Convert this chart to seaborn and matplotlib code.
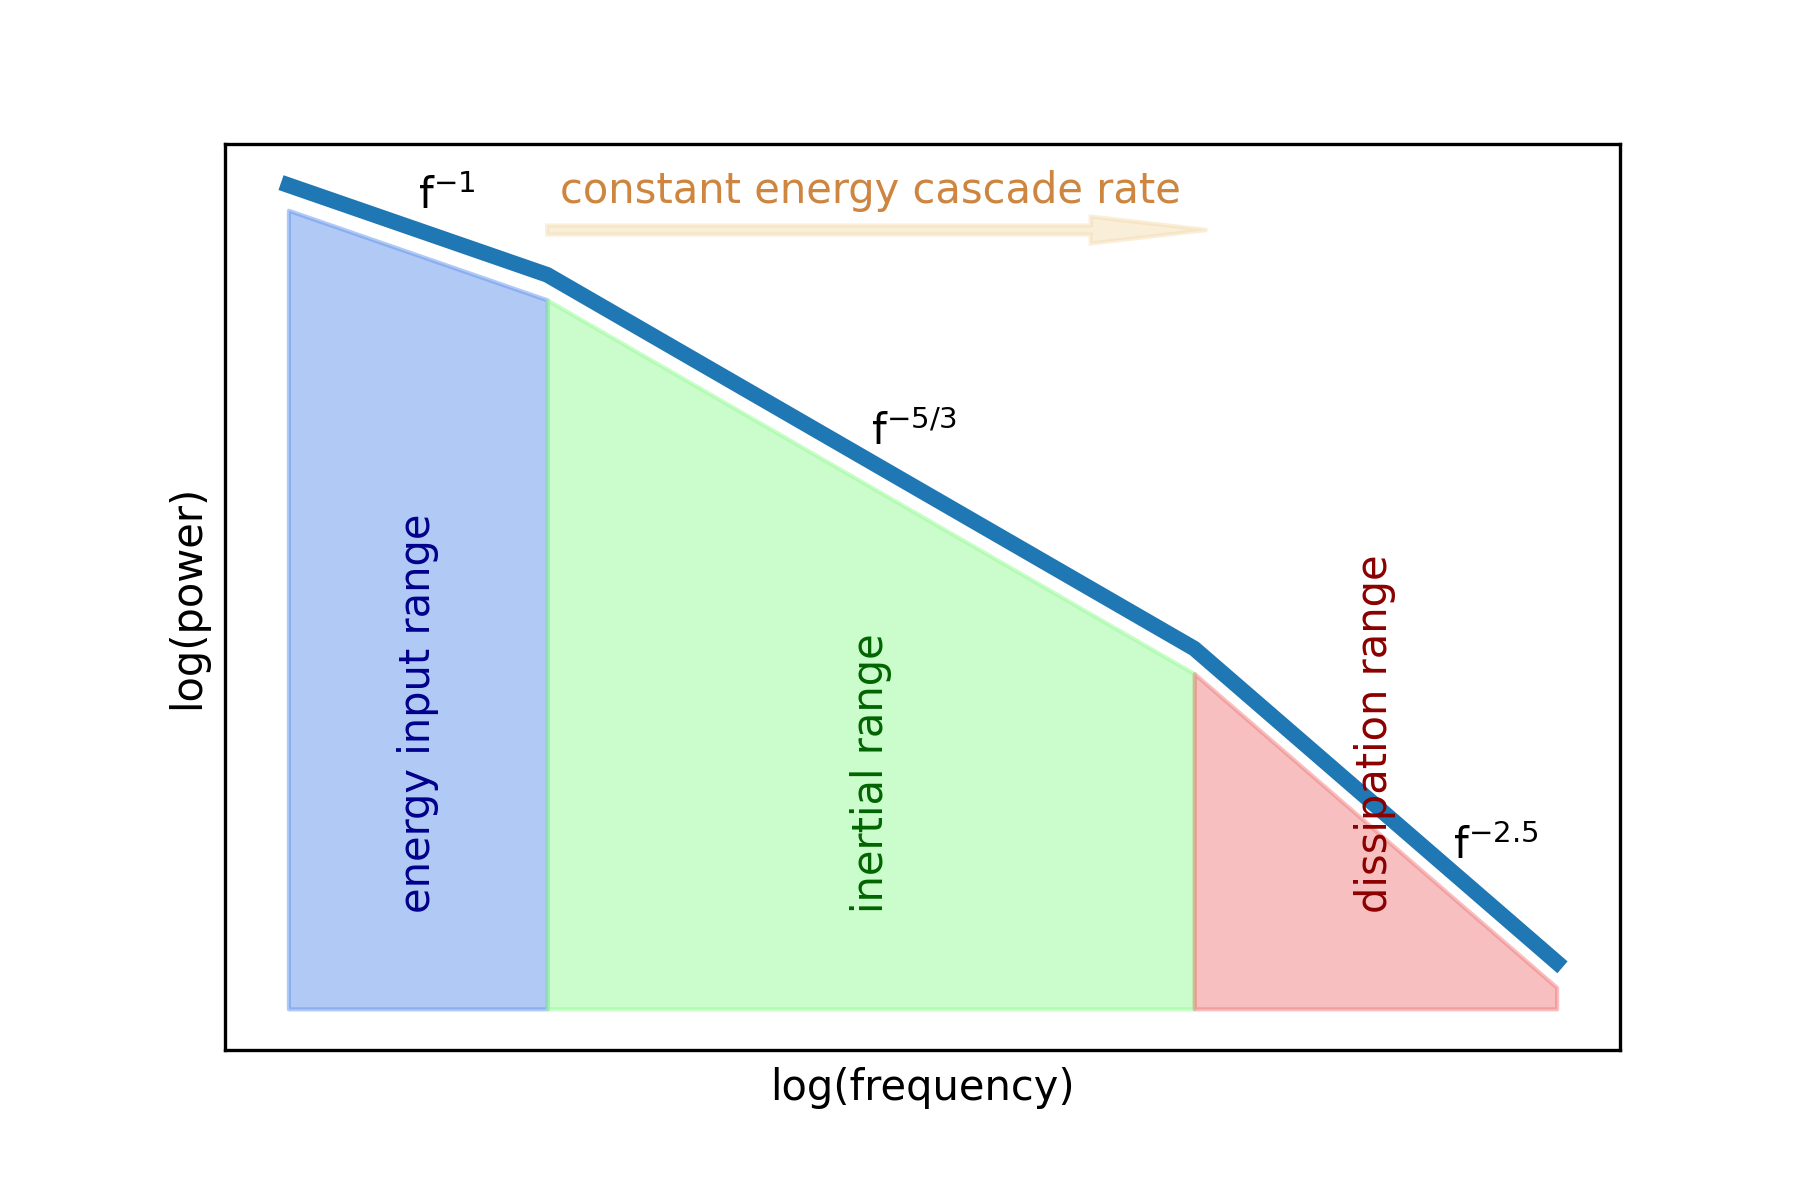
import numpy as np
import pandas as pd
import seaborn as sns
import matplotlib
matplotlib.use("Agg")
import matplotlib.pyplot as plt

# break points of the sketched spectrum, in log units
log_freq = [0.0, 1.0, 3.5, 4.9]
log_power = [0.0, -1.0, -5.17, -8.67]
slope_labels = ["f$^{-1}$", "f$^{-5/3}$", "f$^{-2.5}$"]
range_labels = ["energy input range", "inertial range", "dissipation range"]
range_fill = ["cornflowerblue", "palegreen", "lightcoral"]
range_text = ["darkblue", "darkgreen", "darkred"]
fill_offset = 0.28
floor_power = -9.19

df = pd.DataFrame({"log_freq": log_freq, "log_power": log_power})

fig, ax = plt.subplots(figsize=(6, 4), dpi=300)
fig.subplots_adjust(left=0.125, right=0.9, top=0.88, bottom=0.125)

sns.lineplot(data=df, x="log_freq", y="log_power", ax=ax, color="#1f77b4",
             linewidth=3.75, solid_capstyle="projecting")

# shaded ranges under the spectrum
for i in range(3):
    xs = np.array(log_freq[i:i + 2])
    top = np.array(log_power[i:i + 2]) - fill_offset
    ax.fill_between(xs, top, floor_power, color=range_fill[i], alpha=0.5)

# slope annotations
slope_pos = [(0.5, -0.27), (2.25, -2.9), (4.5, -7.52)]
for (tx, ty), lab in zip(slope_pos, slope_labels):
    ax.text(tx, ty, lab, fontsize=10)

# range names
range_x = [0.5, 2.25, 4.2]
for tx, lab, c in zip(range_x, range_labels, range_text):
    ax.text(tx, -8.12, lab, rotation=90, color=c, fontsize=10,
            ha="center", va="bottom")

ax.text(1.05, -0.2, "constant energy cascade rate", color="peru", fontsize=10)
ax.arrow(1.0, -0.5, 2.55, 0, width=0.1, head_width=0.3, head_length=0.45,
         length_includes_head=True, color="wheat", alpha=0.5)

ax.set_xticks([])
ax.set_yticks([])
ax.set_xlabel("log(frequency)")
ax.set_ylabel("log(power)")

fig.savefig("out.png", dpi=300)
